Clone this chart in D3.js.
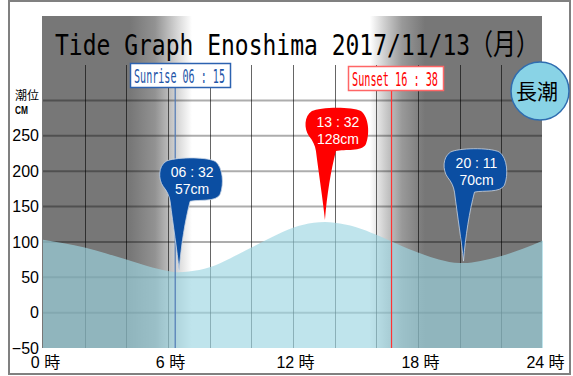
<!DOCTYPE html>
<html>
<head>
<meta charset="utf-8">
<script src="https://d3js.org/d3.v7.min.js"></script>
<style>
  body { margin: 0; background: #fff; }
  svg { display: block; }
  .tick text { font-family: "Liberation Sans Narrow", "Arial Narrow", "Liberation Sans", sans-serif; }
</style>
</head>
<body>
<script>
// tide data (hour of day -> level in cm)
var tideHours  = [0, 1, 2, 3, 4, 5, 6, 6.53, 7, 8, 9, 10, 11, 12, 13, 13.53, 14, 15, 16, 17, 18, 19, 20, 20.18, 21, 22, 23, 24];
var tideLevels = [103, 98, 92, 84, 75, 66, 59, 57, 58, 64, 77, 92, 107, 120, 127, 128, 127, 121, 110, 97, 85, 75, 70, 70, 73, 80, 90, 102];

// high / low water
var peakTimes  = ["06:32", "13:32", "20:11"];
var peakLevels = [57, 128, 70];
var peakKinds  = ["low", "high", "low"];

var sunrise = "06:15";
var sunset  = "16:38";

var xTicks = [0, 6, 12, 18, 24];
var yTicks = [-50, 0, 50, 100, 150, 200, 250];
var gridHours = [2, 4, 6, 8, 10, 12, 14, 16, 18, 20, 22];
var gridLevels = [0, 50, 100, 150, 200, 250, 300];

var title = "Tide Graph Enoshima 2017/11/13（月）";
var tideName = "長潮";

function toHours(s) {
  var p = s.split(":");
  return +p[0] + (+p[1]) / 60;
}

var W = 573, H = 376;
var plot = {left: 43, right: 543, top: 65, bottom: 348};

var svg = d3.select("body").append("svg")
    .attr("width", W)
    .attr("height", H);

var x = d3.scaleLinear().domain([0, 24]).range([plot.left, plot.right]);
var y = d3.scaleLinear().domain([-50, 350]).range([plot.bottom, plot.top]);

// outer frame
svg.append("rect")
    .attr("x", 9).attr("y", 1)
    .attr("width", 561).attr("height", 373)
    .attr("fill", "#fff")
    .attr("stroke", "#808080")
    .attr("stroke-width", 2);

// day / night background
var defs = svg.append("defs");
var grad = defs.append("linearGradient")
    .attr("id", "daylight")
    .attr("gradientUnits", "userSpaceOnUse")
    .attr("x1", plot.left).attr("x2", plot.right)
    .attr("y1", 0).attr("y2", 0);
var stops = [
  [130, "#777"], [155, "#929292"], [178, "#d8d8d8"], [192, "#fff"],
  [370, "#fff"], [384, "#d0d0d0"], [402, "#999"], [425, "#777"]
];
stops.forEach(function(s) {
  grad.append("stop")
      .attr("offset", (s[0] - plot.left) / (plot.right - plot.left))
      .attr("stop-color", s[1]);
});

svg.append("rect")
    .attr("x", plot.left - 1).attr("y", 16)
    .attr("width", plot.right - plot.left).attr("height", plot.bottom - 16)
    .attr("fill", "url(#daylight)");

// grid
svg.append("g").selectAll("line")
    .data(gridLevels)
  .enter().append("line")
    .attr("x1", plot.left).attr("x2", plot.right - 1)
    .attr("y1", function(d) { return y(d); })
    .attr("y2", function(d) { return y(d); })
    .attr("stroke", "rgba(0,0,0,0.32)")
    .attr("stroke-width", 2);

svg.append("g").selectAll("line")
    .data(gridHours)
  .enter().append("line")
    .attr("x1", function(d) { return Math.round(x(d)) + 0.5; })
    .attr("x2", function(d) { return Math.round(x(d)) + 0.5; })
    .attr("y1", plot.top).attr("y2", plot.bottom)
    .attr("stroke", "rgba(0,0,0,0.6)")
    .attr("stroke-width", 1);

// tide area
var tide = tideHours.map(function(h, i) { return {h: h, v: tideLevels[i]}; });
var area = d3.area()
    .x(function(d) { return x(d.h); })
    .y0(plot.bottom)
    .y1(function(d) { return y(d.v); })
    .curve(d3.curveMonotoneX);

svg.append("path")
    .datum(tide)
    .attr("d", area)
    .attr("fill", "rgb(158,214,226)")
    .attr("fill-opacity", 0.66);

// title
svg.append("text")
    .attr("x", 55).attr("y", 55)
    .attr("textLength", 484)
    .attr("lengthAdjust", "spacingAndGlyphs")
    .style("font-family", "'DejaVu Sans Mono', 'Noto Sans CJK JP', monospace")
    .style("font-size", "29px")
    .attr("fill", "#000")
    .text(title);

// axes
var yAxis = d3.axisLeft(y).tickValues(yTicks).tickSize(0).tickPadding(3);
var gy = svg.append("g")
    .attr("transform", "translate(" + (plot.left - 1) + ",0)")
    .call(yAxis);
gy.select(".domain").remove();
gy.selectAll("text").style("font-size", "16px").attr("fill", "#000");

var xAxis = d3.axisBottom(x).tickValues(xTicks).tickSize(0).tickPadding(9)
    .tickFormat(function(d) { return d + " 時"; });
var gx = svg.append("g")
    .attr("transform", "translate(2," + plot.bottom + ")")
    .call(xAxis);
gx.select(".domain").remove();
gx.selectAll("text")
    .style("font-size", "16px")
    .style("font-family", "'Liberation Sans', 'Noto Sans CJK JP', sans-serif")
    .attr("fill", "#000");

svg.append("text")
    .attr("x", 15).attr("y", 100)
    .style("font-family", "'Noto Sans CJK JP', sans-serif")
    .style("font-size", "12px")
    .text("潮位");
svg.append("text")
    .attr("x", 15).attr("y", 114)
    .attr("textLength", 13)
    .attr("lengthAdjust", "spacingAndGlyphs")
    .style("font-family", "'Liberation Sans', sans-serif")
    .style("font-size", "11px")
    .style("font-weight", "bold")
    .text("CM");

// sunrise / sunset
var sunData = [
  {label: "Sunrise  " + sunrise.replace(":", " : "), t: toHours(sunrise), color: "#1f56a8", line: "#5079b5", border: "#2c62b0", bx: 130, by: 63, bw: 100, bh: 24},
  {label: "Sunset  " + sunset.replace(":", " : "), t: toHours(sunset), color: "#f00", line: "#f33", border: "#f66", bx: 348, by: 66, bw: 95, bh: 24}
];

sunData.forEach(function(s) {
  svg.append("line")
      .attr("x1", x(s.t) + 2).attr("x2", x(s.t) + 2)
      .attr("y1", s.by + s.bh).attr("y2", plot.bottom)
      .attr("stroke", s.line)
      .attr("stroke-width", 1.2);
  svg.append("rect")
      .attr("x", s.bx + 0.5).attr("y", s.by + 0.5)
      .attr("width", s.bw).attr("height", s.bh)
      .attr("fill", "#fff")
      .attr("stroke", s.border)
      .attr("stroke-width", 1.5);
  svg.append("text")
      .attr("x", s.bx + 4).attr("y", s.by + s.bh - 4)
      .attr("textLength", s.bw - 9)
      .attr("lengthAdjust", "spacingAndGlyphs")
      .style("font-family", "'DejaVu Sans Mono', monospace")
      .style("font-size", "19px")
      .attr("fill", s.color)
      .text(s.label);
});

// balloons for high / low water
var balloon = "M0,0 C2,-25 6,-50 11,-69 C20,-71 37,-68 41,-76 C45,-86 44,-103 36,-109 " +
    "C26,-114 -6,-113 -13,-109 C-21,-104 -21,-91 -16,-84 C-12,-79 -10,-75 -9,-69 C-6,-45 -2,-20 0,0 Z";

peakTimes.forEach(function(t, i) {
  var g = svg.append("g")
      .attr("transform", "translate(" + x(toHours(t)) + "," + (y(peakLevels[i]) - 2) + ")");
  g.append("path")
      .attr("d", balloon)
      .attr("fill", peakKinds[i] == "high" ? "#ff0000" : "#0b4ea2")
      .attr("stroke", peakKinds[i] == "high" ? "none" : "#c8d4e4")
      .attr("stroke-width", 0.8);
  g.append("text")
      .attr("x", 13).attr("y", -93)
      .attr("text-anchor", "middle")
      .style("font-family", "'Liberation Sans', sans-serif")
      .style("font-size", "14px")
      .attr("fill", "#fff")
      .text(t.replace(":", " : "));
  g.append("text")
      .attr("x", 13).attr("y", -76)
      .attr("text-anchor", "middle")
      .style("font-family", "'Liberation Sans', sans-serif")
      .style("font-size", "14px")
      .attr("fill", "#fff")
      .text(peakLevels[i] + "cm");
});

// tide name badge
svg.append("circle")
    .attr("cx", 540).attr("cy", 91).attr("r", 29)
    .attr("fill", "#89d3e6")
    .attr("stroke", "#2f6db0")
    .attr("stroke-width", 1.5);
svg.append("text")
    .attr("x", 537).attr("y", 99)
    .attr("text-anchor", "middle")
    .style("font-family", "'Noto Sans CJK JP', sans-serif")
    .style("font-size", "21px")
    .attr("fill", "#000")
    .text(tideName);
</script>
</body>
</html>
